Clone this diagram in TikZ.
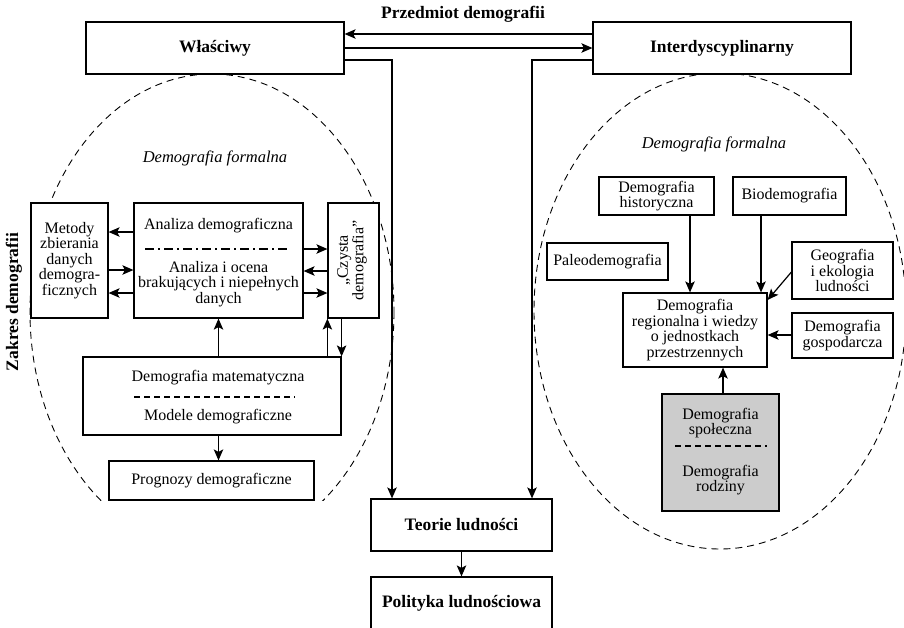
\documentclass[tikz,border=0pt]{standalone}
\usepackage{fontspec}
\setmainfont{Liberation Serif}
\usetikzlibrary{arrows.meta}
\begin{document}
\begin{tikzpicture}[x=1pt,y=-1pt,
  box/.style={draw, line width=1.2pt, fill=white, inner sep=0pt, anchor=center},
  txt/.style={inner sep=0pt, align=center, font=\fontsize{16}{15.5}\selectfont},
  ttl/.style={inner sep=0pt, align=center, font=\fontsize{17.5}{19}\selectfont\bfseries},
  itl/.style={inner sep=0pt, font=\fontsize{16.5}{18}\selectfont\itshape},
  arr/.style={line width=1.2pt, -{Stealth[length=11pt,width=9.5pt,inset=2.5pt]}},
  ln/.style={line width=1.2pt},
  oval/.style={dash pattern=on 7pt off 5pt, line width=0.9pt},
]
\useasboundingbox (0,0) rectangle (904,627);
\clip (0,0) rectangle (904,627);

% dashed ovals of the two fields
\begin{scope}
  \clip (0,0) rectangle (904,500);
  \draw[oval] (212,312) ellipse [x radius=182, y radius=238];
\end{scope}
\draw[oval] (720,311) ellipse [x radius=186, y radius=238];

% top level
\node[box, ttl, minimum width=258pt, minimum height=52pt] (wl) at (215,48) {Właściwy};
\node[box, ttl, minimum width=258pt, minimum height=52pt] (inter) at (722,48) {Interdyscyplinarny};
\node[ttl] (przedmiot) at (463,14) {Przedmiot demografii};
\node[box, ttl, minimum width=181pt, minimum height=52pt] (teorie) at (461.5,525) {Teorie ludności};
\node[box, ttl, minimum width=181pt, minimum height=52pt] (polityka) at (461.5,603) {Polityka ludnościowa};
\node[ttl, rotate=90] (zakres) at (14,302) {Zakres demografii};
\node[itl] (formL) at (215,158) {Demografia formalna};
\node[itl] (formR) at (714,144) {Demografia formalna};

% left field
\node[box, txt, minimum width=77pt, minimum height=115pt] (metody) at (69.5,260.5)
  {Metody\\zbierania\\danych\\demogra-\\ficznych};
\node[box, minimum width=169pt, minimum height=115pt] (an) at (218.5,260.5) {};
\node[txt] (an1) at (218.5,226) {Analiza demograficzna};
\node[txt] (an2) at (218.5,284) {Analiza i ocena\\brakujących i niepełnych\\danych};
\draw[ln, dash pattern=on 9pt off 4pt on 2pt off 4pt] (145,249) -- (287,249);
\node[box, minimum width=51pt, minimum height=115pt] (czysta) at (353.5,260.5) {};
\node[txt, rotate=90] (czystaT) at (352,260.5) {„Czysta\\demografia”};
\node[box, minimum width=258pt, minimum height=78pt] (dm) at (212,396) {};
\node[txt] (dm1) at (218,378) {Demografia matematyczna};
\draw[ln, dash pattern=on 6pt off 4pt] (134,397) -- (295,397);
\node[txt] (dm2) at (218,417) {Modele demograficzne};
\node[box, txt, minimum width=205pt, minimum height=39pt] (prog) at (211.5,480.5) {Prognozy demograficzne};

% right field
\node[box, txt, minimum width=115pt, minimum height=38pt] (hist) at (656.5,196) {Demografia\\historyczna};
\node[box, txt, minimum width=113pt, minimum height=38pt] (bio) at (789.5,196) {Biodemografia};
\node[box, txt, minimum width=121pt, minimum height=37pt] (paleo) at (607.5,261.5) {Paleodemografia};
\node[box, txt, minimum width=101pt, minimum height=57pt] (geo) at (842.5,270.5) {Geografia\\i ekologia\\ludności};
\node[box, txt, minimum width=144pt, minimum height=74pt] (reg) at (695,330)
  {Demografia\\regionalna i wiedzy\\o jednostkach\\przestrzennych};
\node[box, txt, minimum width=101pt, minimum height=45pt] (gosp) at (842.5,335.5) {Demografia\\gospodarcza};
\node[box, fill=black!20, line width=2pt, minimum width=117pt, minimum height=117pt] (gray) at (720.5,452.5) {};
\node[txt] (gray1) at (720.5,423) {Demografia\\społeczna};
\draw[line width=1.5pt, dash pattern=on 6pt off 4pt] (675,446) -- (767,446);
\node[txt] (gray2) at (720.5,480) {Demografia\\rodziny};

% connectors at the top
\draw[arr] (inter.west |- 0,34) -- (wl.east |- 0,34);
\draw[arr] (wl.east |- 0,48) -- (inter.west |- 0,48);
\draw[arr] (wl.east |- 0,60) -| (teorie.north -| 392,0);
\draw[arr] (inter.west |- 0,60) -| (teorie.north -| 532,0);
\draw[arr] (teorie.south) -- (polityka.north);

% connectors in the left field
\draw[arr] (an.west |- 0,232) -- (metody.east |- 0,232);
\draw[arr] (metody.east |- 0,270) -- (an.west |- 0,270);
\draw[arr] (an.west |- 0,293) -- (metody.east |- 0,293);
\draw[arr] (an.east |- 0,249) -- (czysta.west |- 0,249);
\draw[arr] (czysta.west |- 0,271) -- (an.east |- 0,271);
\draw[arr] (an.east |- 0,293) -- (czysta.west |- 0,293);
\draw[arr] (an.south |- dm.north) -- (an.south);
\draw[arr] (czysta.south west |- dm.north) -- (czysta.south west);
\draw[arr] (dm.north east |- czysta.south) -- (dm.north east);
\draw[arr] (an.south |- dm.south) -- (an.south |- prog.north);

% connectors in the right field
\draw[arr] (hist.south -| 690,0) -- (reg.north -| 690,0);
\draw[arr] (bio.south -| 761,0) -- (reg.north -| 761,0);
\draw[arr] (geo.west |- 0,272) -- (reg.east |- 0,300);
\draw[arr] (gosp.west |- 0,335) -- (reg.east |- 0,335);
\draw[arr] (gray.north -| 723,0) -- (reg.south -| 723,0);
\end{tikzpicture}
\end{document}
